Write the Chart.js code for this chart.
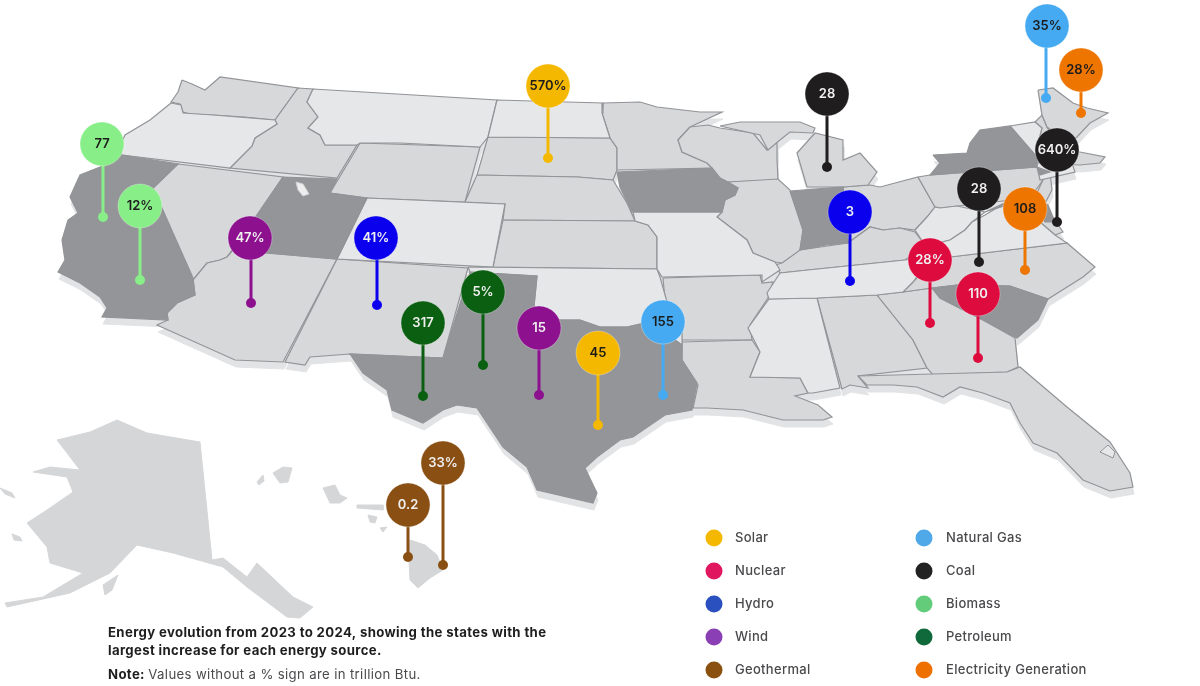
<!DOCTYPE html>
<html><head><meta charset="utf-8">
<style>html,body{margin:0;padding:0;background:#fff}canvas{display:block}</style>
<script src="https://cdn.jsdelivr.net/npm/chart.js@4"></script></head>
<body><canvas id="c" width="1200" height="686"></canvas>
<script>
// ---- pin data (map-space readings) ----
const pinSources=["Biomass","Biomass","Wind","Hydro","Petroleum","Petroleum","Wind","Solar","Natural Gas","Solar","Coal","Hydro","Coal","Electricity Generation","Coal","Natural Gas","Electricity Generation","Nuclear","Nuclear","Geothermal","Geothermal"];
const pinLabels=["77","12%","47%","41%","317","5%","15","45","155","570%","28","3","28","108","640%","35%","28%","28%","110","33%","0.2"];
const pinHeadX=[102,140,250,376,423,483,539,598,663,548,827,850,979,1025,1057,1047,1081,930,978,443,408];
const pinHeadY=[144,206,238,238,323,292,328,353,322,86,94,212,189,209,150,26,70,260,294,463,505];
const pinTipX=[103,140,251,377,423,483,539,598,663,548,827,850,979,1025,1057,1046,1081,930,978,443,408];
const pinTipY=[217,280,303,305,396,365,395,425,395,158,167,281,262,270,222,98,113,323,358,565,557];
// ---- legend ----
const legendColumnA=["Solar","Nuclear","Hydro","Wind","Geothermal"];
const legendColumnB=["Natural Gas","Coal","Biomass","Petroleum","Electricity Generation"];
// ---- state outlines ----
const WA=[[182,80],[192,84],[205,90],[212,84],[220,77],[298,88],[275,120],[245,117],[213,115],[190,114],[183,112],[180,104],[171,102],[178,92]];
const OR=[[171,103],[181,105],[183,113],[213,115],[275,120],[277,124],[255,138],[252,146],[230,168],[122,155],[118,150],[125,135],[150,120]];
const CA=[[122,155],[178,164],[153,188],[193,278],[195,295],[177,303],[167,313],[168,320],[102,317],[107,308],[100,297],[80,283],[58,272],[65,260],[62,240],[68,220],[78,213],[70,197],[80,175],[100,167]];
const NV=[[178,164],[283,177],[257,215],[227,257],[220,260],[207,263],[193,280],[153,188]];
const ID=[[298,88],[313,89],[307,102],[318,117],[308,128],[320,135],[325,145],[357,145],[337,178],[230,168],[252,146],[255,138],[277,124],[275,120]];
const MT=[[313,89],[497,100],[488,137],[480,147],[400,143],[360,143],[357,145],[325,145],[320,135],[308,128],[318,117],[307,102]];
const WY=[[360,143],[480,147],[465,202],[367,198],[330,193]];
const UT=[[283,177],[337,179],[330,193],[367,198],[337,259],[233,250]];
const CO=[[367,198],[505,204],[493,267],[337,259]];
const AZ=[[233,250],[337,259],[283,362],[235,360],[157,325],[168,320],[167,313],[177,303],[195,295],[193,280],[207,263],[220,260],[227,257]];
const NM=[[337,259],[468,268],[443,358],[350,354],[310,357],[305,365],[285,362]];
const TX=[[470,272],[537,276],[533,316],[560,320],[580,320],[600,327],[627,327],[650,322],[682,345],[682,360],[697,383],[692,410],[665,415],[633,437],[620,440],[597,457],[585,468],[597,493],[593,503],[537,490],[527,467],[503,447],[477,408],[457,405],[443,410],[423,423],[392,410],[387,390],[363,373],[350,354],[443,358]];
const OK=[[468,267],[657,269],[660,277],[667,302],[682,332],[682,345],[650,322],[627,327],[600,327],[580,320],[560,320],[533,316],[537,276],[470,272]];
const KS=[[503,220],[635,221],[648,225],[657,237],[657,269],[493,267]];
const NE=[[477,175],[578,177],[613,180],[627,203],[635,221],[503,220],[505,204],[465,202]];
const SD=[[488,137],[610,138],[617,148],[617,170],[613,180],[578,177],[477,175]];
const ND=[[497,100],[603,103],[602,113],[610,138],[488,137]];
const MN=[[603,103],[640,102],[657,107],[700,112],[722,112],[690,127],[678,140],[682,152],[707,163],[712,168],[617,170],[617,148],[610,138],[602,113]];
const IA=[[617,172],[712,168],[720,178],[738,188],[735,195],[725,200],[722,212],[632,212],[620,187]];
const MO=[[633,212],[722,212],[717,217],[747,240],[753,253],[775,262],[780,270],[762,282],[762,275],[662,277],[657,269],[657,237],[648,225],[635,221]];
const WI=[[690,127],[708,125],[720,128],[753,133],[767,150],[777,140],[777,158],[778,180],[728,182],[720,178],[712,168],[707,163],[682,152],[678,140]];
const IL=[[728,182],[778,179],[790,190],[803,230],[800,250],[795,258],[782,263],[775,262],[753,253],[747,240],[717,217],[722,212],[725,200],[735,195],[738,188]];
const IN=[[790,191],[843,187],[848,243],[826,245],[800,250],[803,230]];
const OH=[[843,187],[870,185],[880,187],[918,177],[935,207],[927,217],[915,230],[900,228],[883,230],[870,227],[848,243]];
const MI=[[807,187],[797,153],[815,133],[843,140],[843,160],[860,153],[877,172],[868,185],[843,187]];
const MU=[[720,126],[740,122],[770,122],[800,122],[815,128],[813,133],[790,132],[780,140],[768,150],[760,135]];
const KY=[[782,263],[800,250],[848,243],[870,227],[883,230],[900,228],[915,232],[925,245],[905,260],[808,270],[780,273],[775,265]];
const TN=[[780,273],[808,270],[905,260],[932,256],[913,282],[903,292],[877,295],[817,298],[769,299],[767,293]];
const AR=[[663,278],[760,275],[762,283],[773,282],[768,298],[750,325],[752,340],[682,340],[681,335],[665,300]];
const LA=[[682,342],[752,340],[760,352],[750,377],[800,378],[808,393],[795,396],[818,405],[832,417],[823,420],[783,420],[743,410],[707,408],[693,408],[698,385],[682,360]];
const MS=[[769,299],[817,298],[840,388],[813,393],[808,393],[800,378],[750,377],[760,352],[748,328]];
const AL=[[817,298],[877,295],[913,340],[927,368],[858,376],[868,388],[850,385],[842,389]];
const GA=[[877,295],[903,292],[932,288],[940,298],[983,320],[1015,338],[1018,367],[1007,372],[933,375],[927,368],[913,340]];
const SC=[[932,288],[957,285],[1010,286],[1048,299],[1038,320],[1017,338],[983,320],[940,298]];
const NC=[[950,257],[1067,243],[1095,267],[1083,277],[1048,299],[1010,286],[957,285],[932,288],[903,292],[913,282],[932,262]];
const VA=[[913,257],[930,245],[950,240],[965,230],[972,222],[985,215],[1005,203],[1040,222],[1055,235],[1067,243],[950,257]];
const WV=[[915,230],[927,217],[935,207],[940,208],[957,206],[985,212],[972,222],[965,230],[950,240],[930,245],[925,245]];
const PA=[[918,177],[930,175],[1037,167],[1043,180],[1030,198],[940,208],[935,207]];
const NY=[[933,155],[967,153],[970,143],[980,130],[1010,126],[1037,158],[1037,167],[1050,172],[1040,175],[1037,167],[930,175],[940,163]];
const NJ=[[1037,167],[1050,172],[1052,190],[1044,205],[1035,197],[1043,180]];
const MD=[[985,212],[1030,198],[1048,205],[1055,222],[1045,222],[1035,208],[1020,207],[1005,203]];
const DE=[[1036,198],[1044,205],[1063,232],[1055,235],[1040,222],[1030,205]];
const VT=[[1010,126],[1035,122],[1042,128],[1038,143],[1037,157]];
const NH=[[1035,122],[1042,115],[1047,127],[1060,150],[1038,152],[1038,143],[1042,128]];
const ME=[[1038,90],[1053,88],[1073,103],[1087,108],[1108,113],[1090,123],[1077,137],[1068,142],[1047,127],[1042,115]];
const MA=[[1037,157],[1060,150],[1080,152],[1105,157],[1100,163],[1080,165],[1037,163]];
const CT=[[1037,163],[1072,163],[1075,172],[1040,180],[1037,167]];
const FL=[[858,376],[1007,372],[1020,367],[1067,407],[1110,442],[1130,473],[1133,487],[1110,491],[1083,480],[1057,453],[1033,443],[1020,423],[1010,403],[983,393],[960,387],[943,397],[917,387],[893,385],[867,385]];
const lakeOkeechobee=[[1100,452],[1108,445],[1115,452],[1113,458]];
const saltLake=[[296,182],[303,184],[309,194],[303,196],[298,190]];
const alaska=[[57,440],[90,432],[117,420],[147,433],[200,442],[212,560],[223,558],[247,577],[257,563],[293,597],[313,607],[300,618],[287,617],[247,587],[223,567],[173,553],[137,545],[110,573],[70,593],[7,607],[5,603],[43,597],[83,573],[73,570],[50,563],[47,547],[27,523],[47,510],[73,492],[67,477],[33,472],[50,467],[80,470],[67,453]];
const hawaiiIslands=[
 [[410,540],[425,545],[437,555],[443,570],[430,578],[418,588],[410,580],[409,560]],
 [[273,473],[283,467],[292,468],[288,482],[280,483]],
 [[257,482],[263,475],[264,481],[259,485]],
 [[323,488],[335,485],[340,495],[347,498],[340,503],[330,503]],
 [[357,505],[383,505],[383,510],[357,508]],
 [[368,515],[377,517],[375,523],[370,522]],
 [[380,528],[387,527],[383,532]],
 [[0,488],[12,493],[15,498],[5,494]],
 [[12,534],[20,537],[22,541],[14,540]],
 [[103,585],[118,575],[112,590],[105,595]]
];
const highlightedStates=[CA,UT,IA,TX,IN,NY,SC,MD];
const lightStates=[OR,MT,CO,ND,OK,MO,MS,TN,WV,VA,VT,CT];
const midStates=[WA,ID,NV,WY,AZ,NM,SD,NE,KS,MN,WI,IL,OH,MI,MU,KY,AR,LA,AL,GA,NC,PA,NJ,DE,NH,ME,MA,FL];

// ---- styling ----
const SOURCE_COLOR={"Solar":"#f5b800","Nuclear":"#de0b3f","Hydro":"#0a00ee","Wind":"#8d108f","Geothermal":"#8a4f12","Natural Gas":"#45aaf2","Coal":"#1f1d1e","Biomass":"#88ee88","Petroleum":"#0a5f10","Electricity Generation":"#ee7500"};
const LEGEND_COLOR={"Solar":"#f5b800","Nuclear":"#e0165f","Hydro":"#2a4fbf","Wind":"#8a3fb5","Geothermal":"#8a5010","Natural Gas":"#4fa8e8","Coal":"#222222","Biomass":"#62cc7a","Petroleum":"#10693a","Electricity Generation":"#ee7000"};
const DARK_TEXT=new Set(["Solar","Natural Gas","Biomass","Electricity Generation"]);
const FONT='Inter, "Open Sans", sans-serif';

const pts=a=>a.concat([a[0]]).map(p=>({x:p[0],y:p[1]}));
const poly=(a,fill,stroke,w)=>({data:pts(a),showLine:true,fill:'shape',backgroundColor:fill,borderColor:stroke,borderWidth:w,pointRadius:0,tension:0});
const shadow=a=>({data:a.concat([a[0]]).map(p=>({x:p[0]+1,y:p[1]+7})),showLine:true,fill:'shape',backgroundColor:'#e2e3e5',borderColor:'#e2e3e5',borderWidth:1,pointRadius:0,tension:0});

let ds=[];
[...highlightedStates,...lightStates,...midStates].forEach(a=>ds.push(shadow(a)));
[alaska,...hawaiiIslands].forEach(a=>ds.push(poly(a,'#d5d6d8','#d5d6d8',1)));
const BORDER='#929497';
midStates.forEach(a=>ds.push(poly(a,'#d7d8da',BORDER,1.2)));
lightStates.forEach(a=>ds.push(poly(a,'#e6e7e9',BORDER,1.2)));
highlightedStates.forEach(a=>ds.push(poly(a,'#939598',BORDER,1.2)));
ds.push(poly(lakeOkeechobee,'#e6e7e9',BORDER,1));
ds.push(poly(saltLake,'#eeeeef','#d0d1d3',1));
pinLabels.forEach((l,i)=>{
  const c=SOURCE_COLOR[pinSources[i]];
  ds.push({data:[{x:pinTipX[i],y:pinTipY[i]},{x:pinTipX[i],y:pinHeadY[i]}],showLine:true,borderColor:c,borderWidth:3,pointRadius:[5,0],pointBackgroundColor:c,pointBorderWidth:0});
  ds.push({data:[{x:pinHeadX[i],y:pinHeadY[i]}],showLine:false,pointRadius:22,pointBackgroundColor:c,pointBorderColor:'rgba(255,255,255,.3)',pointBorderWidth:1});
});
// Chart.js paints dataset 0 last; keep the list in painter's order.
ds.reverse();

const textLayer={id:'textLayer',afterDatasetsDraw(chart){
  const g=chart.ctx,X=chart.scales.x,Y=chart.scales.y;
  g.save();g.textBaseline='middle';g.textAlign='center';
  pinLabels.forEach((l,i)=>{
    g.font='600 13px '+FONT;
    g.fillStyle=DARK_TEXT.has(pinSources[i])?'#1c1c1c':'#f0f0f0';
    g.fillText(l,X.getPixelForValue(pinHeadX[i]),Y.getPixelForValue(pinHeadY[i]));
  });
  g.textAlign='left';
  g.letterSpacing='0.3px';
  const rowY=[538,571,604,637,670];
  [[legendColumnA,714,735],[legendColumnB,924,946]].forEach(([col,mx,tx])=>{
    col.forEach((name,r)=>{
      g.beginPath();g.arc(mx,rowY[r],8.5,0,Math.PI*2);g.fillStyle=LEGEND_COLOR[name];g.fill();
      g.font='500 13px '+FONT;g.fillStyle='#4a4a4d';g.fillText(name,tx,rowY[r]);
    });
  });
  g.letterSpacing='0.35px';
  g.font='700 13.2px '+FONT;g.fillStyle='#1e1e1e';
  g.fillText('Energy evolution from 2023 to 2024, showing the states with the',108,633);
  g.fillText('largest increase for each energy source.',108,651);
  g.fillText('Note:',108,675);
  const w=g.measureText('Note: ').width;
  g.font='400 13.2px '+FONT;g.fillStyle='#4a4a4d';
  g.fillText('Values without a % sign are in trillion Btu.',108+w,675);
  g.restore();
}};

new Chart(document.getElementById('c'),{
  type:'scatter',
  data:{datasets:ds},
  options:{responsive:false,animation:false,
    layout:{padding:0,autoPadding:false},
    plugins:{legend:{display:false},tooltip:{enabled:false}},
    scales:{x:{type:'linear',min:0,max:1200,display:false},y:{type:'linear',min:0,max:686,reverse:true,display:false}},
    clip:false},
  plugins:[textLayer]
});
</script></body></html>
